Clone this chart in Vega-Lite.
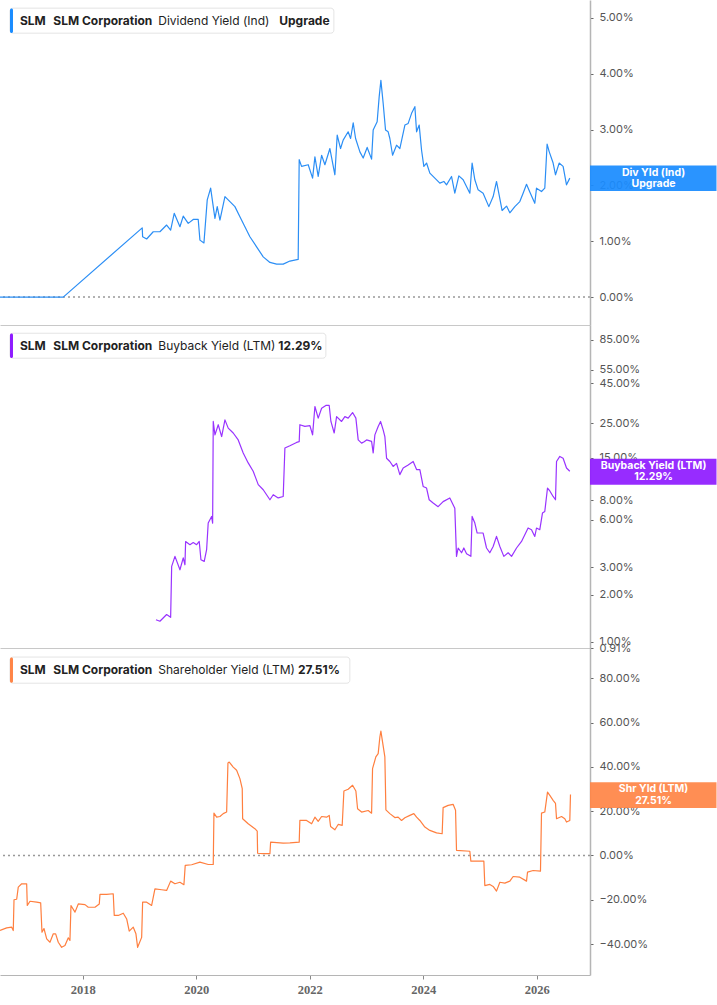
{
  "$schema": "https://vega.github.io/schema/vega-lite/v6.json",
  "padding": 0,
  "background": "white",
  "bounds": "flush",
  "spacing": 0,
  "config": {"font": "Inter", "view": {"stroke": null}},
  "datasets": {
    "div": [
      {"t":2016.54,"v":0},{"t":2017.655,"v":0},{"t":2019.047,"v":1.24},{"t":2019.054,"v":1.08},{"t":2019.125,"v":1.04},{"t":2019.241,"v":1.17},{"t":2019.359,"v":1.17},{"t":2019.477,"v":1.29},{"t":2019.548,"v":1.20},{"t":2019.611,"v":1.50},{"t":2019.712,"v":1.26},{"t":2019.770,"v":1.45},{"t":2019.858,"v":1.32},{"t":2019.946,"v":1.39},{"t":2020.034,"v":1.39},{"t":2020.064,"v":1.02},{"t":2020.135,"v":0.97},{"t":2020.193,"v":1.74},{"t":2020.253,"v":1.95},{"t":2020.299,"v":1.62},{"t":2020.329,"v":1.41},{"t":2020.369,"v":1.62},{"t":2020.417,"v":1.38},{"t":2020.505,"v":1.80},{"t":2020.593,"v":1.71},{"t":2020.681,"v":1.62},{"t":2020.769,"v":1.44},{"t":2020.857,"v":1.26},{"t":2020.945,"v":1.08},{"t":2021.063,"v":0.90},{"t":2021.180,"v":0.72},{"t":2021.298,"v":0.62},{"t":2021.416,"v":0.59},{"t":2021.532,"v":0.59},{"t":2021.650,"v":0.645},{"t":2021.796,"v":0.675},{"t":2021.814,"v":2.46},{"t":2021.856,"v":2.34},{"t":2021.973,"v":2.37},{"t":2022.050,"v":2.13},{"t":2022.091,"v":2.51},{"t":2022.149,"v":2.16},{"t":2022.209,"v":2.54},{"t":2022.267,"v":2.37},{"t":2022.355,"v":2.66},{"t":2022.443,"v":2.19},{"t":2022.484,"v":2.90},{"t":2022.543,"v":2.66},{"t":2022.589,"v":2.81},{"t":2022.677,"v":2.96},{"t":2022.720,"v":2.84},{"t":2022.766,"v":3.12},{"t":2022.808,"v":2.84},{"t":2022.884,"v":2.60},{"t":2022.942,"v":2.49},{"t":2023.012,"v":2.68},{"t":2023.090,"v":2.47},{"t":2023.118,"v":2.99},{"t":2023.188,"v":3.14},{"t":2023.224,"v":3.59},{"t":2023.254,"v":3.88},{"t":2023.294,"v":3.47},{"t":2023.336,"v":2.99},{"t":2023.382,"v":2.96},{"t":2023.412,"v":2.84},{"t":2023.460,"v":2.54},{"t":2023.530,"v":2.72},{"t":2023.588,"v":2.66},{"t":2023.677,"v":3.08},{"t":2023.735,"v":3.11},{"t":2023.795,"v":3.29},{"t":2023.853,"v":3.41},{"t":2023.883,"v":2.96},{"t":2023.929,"v":3.08},{"t":2023.971,"v":2.63},{"t":2024.011,"v":2.34},{"t":2024.059,"v":2.40},{"t":2024.117,"v":2.22},{"t":2024.205,"v":2.13},{"t":2024.293,"v":2.04},{"t":2024.364,"v":2.07},{"t":2024.411,"v":2.01},{"t":2024.499,"v":2.16},{"t":2024.557,"v":1.86},{"t":2024.628,"v":2.17},{"t":2024.704,"v":2.10},{"t":2024.822,"v":1.86},{"t":2024.862,"v":2.40},{"t":2024.910,"v":2.10},{"t":2024.968,"v":1.92},{"t":2025.056,"v":1.86},{"t":2025.157,"v":1.62},{"t":2025.233,"v":1.80},{"t":2025.292,"v":2.07},{"t":2025.338,"v":1.83},{"t":2025.391,"v":1.55},{"t":2025.469,"v":1.63},{"t":2025.527,"v":1.51},{"t":2025.615,"v":1.62},{"t":2025.703,"v":1.71},{"t":2025.761,"v":1.86},{"t":2025.821,"v":2.02},{"t":2025.879,"v":1.88},{"t":2025.967,"v":1.68},{"t":2025.997,"v":1.95},{"t":2026.085,"v":1.89},{"t":2026.143,"v":1.95},{"t":2026.184,"v":2.74},{"t":2026.219,"v":2.61},{"t":2026.290,"v":2.40},{"t":2026.332,"v":2.19},{"t":2026.396,"v":2.40},{"t":2026.466,"v":2.34},{"t":2026.526,"v":2.01},{"t":2026.584,"v":2.13}
    ],
    "bb": [
      {"t":2019.289,"v":1.38},{"t":2019.359,"v":1.35},{"t":2019.477,"v":1.49},{"t":2019.548,"v":1.43},{"t":2019.566,"v":3.03},{"t":2019.624,"v":3.51},{"t":2019.712,"v":2.88},{"t":2019.770,"v":3.43},{"t":2019.800,"v":3.10},{"t":2019.812,"v":4.37},{"t":2019.888,"v":4.17},{"t":2019.946,"v":4.30},{"t":2020.006,"v":4.17},{"t":2020.052,"v":4.37},{"t":2020.082,"v":3.34},{"t":2020.140,"v":3.26},{"t":2020.182,"v":3.87},{"t":2020.210,"v":5.73},{"t":2020.270,"v":6.32},{"t":2020.288,"v":5.73},{"t":2020.299,"v":25.6},{"t":2020.329,"v":21.0},{"t":2020.387,"v":24.4},{"t":2020.447,"v":20.5},{"t":2020.505,"v":26.2},{"t":2020.563,"v":23.2},{"t":2020.651,"v":21.6},{"t":2020.739,"v":19.5},{"t":2020.827,"v":16.1},{"t":2020.915,"v":13.9},{"t":2021.003,"v":12.3},{"t":2021.092,"v":10.1},{"t":2021.180,"v":9.36},{"t":2021.298,"v":8.08},{"t":2021.356,"v":8.7},{"t":2021.444,"v":8.3},{"t":2021.532,"v":8.48},{"t":2021.562,"v":17.3},{"t":2021.650,"v":17.9},{"t":2021.768,"v":18.8},{"t":2021.814,"v":19.0},{"t":2021.826,"v":24.4},{"t":2021.914,"v":23.8},{"t":2022.003,"v":24.1},{"t":2022.050,"v":21.0},{"t":2022.091,"v":31.9},{"t":2022.149,"v":26.9},{"t":2022.209,"v":31.1},{"t":2022.284,"v":32.4},{"t":2022.343,"v":32.4},{"t":2022.373,"v":25.6},{"t":2022.431,"v":21.6},{"t":2022.473,"v":27.5},{"t":2022.561,"v":25.6},{"t":2022.619,"v":27.5},{"t":2022.677,"v":26.9},{"t":2022.755,"v":29.2},{"t":2022.813,"v":26.9},{"t":2022.854,"v":19.5},{"t":2022.914,"v":18.6},{"t":2022.959,"v":19.0},{"t":2023.002,"v":19.5},{"t":2023.090,"v":19.1},{"t":2023.118,"v":16.1},{"t":2023.148,"v":21.0},{"t":2023.206,"v":23.8},{"t":2023.248,"v":25.6},{"t":2023.294,"v":22.6},{"t":2023.324,"v":20.5},{"t":2023.354,"v":14.9},{"t":2023.412,"v":14.2},{"t":2023.470,"v":13.2},{"t":2023.530,"v":13.8},{"t":2023.588,"v":11.7},{"t":2023.647,"v":12.9},{"t":2023.735,"v":13.5},{"t":2023.823,"v":14.2},{"t":2023.883,"v":12.6},{"t":2023.941,"v":12.6},{"t":2023.999,"v":9.83},{"t":2024.059,"v":9.6},{"t":2024.105,"v":8.08},{"t":2024.175,"v":7.7},{"t":2024.263,"v":7.3},{"t":2024.351,"v":7.86},{"t":2024.469,"v":8.3},{"t":2024.557,"v":7.14},{"t":2024.587,"v":3.51},{"t":2024.616,"v":3.97},{"t":2024.676,"v":3.7},{"t":2024.716,"v":3.97},{"t":2024.764,"v":3.65},{"t":2024.840,"v":3.51},{"t":2024.862,"v":6.32},{"t":2024.910,"v":5.73},{"t":2024.951,"v":4.95},{"t":2025.056,"v":4.95},{"t":2025.116,"v":3.97},{"t":2025.174,"v":3.7},{"t":2025.233,"v":4.06},{"t":2025.292,"v":4.71},{"t":2025.351,"v":4.06},{"t":2025.421,"v":3.51},{"t":2025.497,"v":3.7},{"t":2025.557,"v":3.51},{"t":2025.645,"v":3.97},{"t":2025.733,"v":4.37},{"t":2025.849,"v":5.33},{"t":2025.909,"v":5.2},{"t":2025.967,"v":4.71},{"t":2025.997,"v":5.33},{"t":2026.055,"v":5.2},{"t":2026.102,"v":6.64},{"t":2026.143,"v":6.8},{"t":2026.191,"v":9.6},{"t":2026.232,"v":9.2},{"t":2026.290,"v":8.48},{"t":2026.332,"v":8.08},{"t":2026.350,"v":14.2},{"t":2026.408,"v":15.3},{"t":2026.466,"v":14.9},{"t":2026.526,"v":12.9},{"t":2026.584,"v":12.29}
    ],
    "shr": [
      {"t":2016.540,"v":-33.9},{"t":2016.658,"v":-32.7},{"t":2016.746,"v":-32.4},{"t":2016.774,"v":-33.9},{"t":2016.787,"v":-20.0},{"t":2016.834,"v":-19.8},{"t":2016.862,"v":-14.3},{"t":2016.922,"v":-12.8},{"t":2017.010,"v":-12.8},{"t":2017.021,"v":-22.6},{"t":2017.069,"v":-20.7},{"t":2017.187,"v":-21.1},{"t":2017.257,"v":-21.4},{"t":2017.280,"v":-34.7},{"t":2017.315,"v":-33.0},{"t":2017.363,"v":-37.7},{"t":2017.421,"v":-39.2},{"t":2017.479,"v":-35.4},{"t":2017.521,"v":-35.4},{"t":2017.567,"v":-39.2},{"t":2017.627,"v":-41.5},{"t":2017.685,"v":-40.7},{"t":2017.744,"v":-37.2},{"t":2017.773,"v":-38.4},{"t":2017.791,"v":-22.6},{"t":2017.862,"v":-25.6},{"t":2017.920,"v":-21.9},{"t":2018.038,"v":-22.2},{"t":2018.096,"v":-23.4},{"t":2018.214,"v":-23.4},{"t":2018.290,"v":-21.9},{"t":2018.302,"v":-17.6},{"t":2018.420,"v":-17.6},{"t":2018.536,"v":-17.3},{"t":2018.554,"v":-27.1},{"t":2018.625,"v":-27.1},{"t":2018.713,"v":-26.1},{"t":2018.773,"v":-28.7},{"t":2018.818,"v":-34.2},{"t":2018.889,"v":-32.4},{"t":2018.936,"v":-35.4},{"t":2018.966,"v":-41.5},{"t":2019.037,"v":-37.0},{"t":2019.054,"v":-21.1},{"t":2019.125,"v":-21.1},{"t":2019.213,"v":-22.6},{"t":2019.271,"v":-15.1},{"t":2019.389,"v":-15.5},{"t":2019.477,"v":-15.8},{"t":2019.548,"v":-11.6},{"t":2019.624,"v":-12.8},{"t":2019.712,"v":-12.1},{"t":2019.782,"v":-13.2},{"t":2019.805,"v":-4.5},{"t":2019.918,"v":-4.2},{"t":2020.064,"v":-3.0},{"t":2020.210,"v":-4.1},{"t":2020.299,"v":-4.1},{"t":2020.311,"v":19.1},{"t":2020.359,"v":17.3},{"t":2020.417,"v":17.6},{"t":2020.475,"v":18.9},{"t":2020.535,"v":19.6},{"t":2020.558,"v":41.8},{"t":2020.581,"v":42.2},{"t":2020.651,"v":39.9},{"t":2020.711,"v":38.5},{"t":2020.769,"v":34.7},{"t":2020.810,"v":30.2},{"t":2020.817,"v":16.6},{"t":2020.915,"v":14.3},{"t":2021.033,"v":12.1},{"t":2021.074,"v":11.0},{"t":2021.081,"v":1.0},{"t":2021.180,"v":0.8},{"t":2021.298,"v":0.8},{"t":2021.310,"v":6.0},{"t":2021.532,"v":5.6},{"t":2021.650,"v":5.7},{"t":2021.814,"v":6.0},{"t":2021.826,"v":15.8},{"t":2021.944,"v":15.8},{"t":2022.033,"v":14.3},{"t":2022.091,"v":17.3},{"t":2022.149,"v":15.4},{"t":2022.209,"v":17.6},{"t":2022.297,"v":17.3},{"t":2022.343,"v":18.1},{"t":2022.367,"v":13.1},{"t":2022.443,"v":11.6},{"t":2022.501,"v":14.0},{"t":2022.572,"v":13.6},{"t":2022.602,"v":29.1},{"t":2022.677,"v":29.9},{"t":2022.755,"v":31.7},{"t":2022.813,"v":29.1},{"t":2022.843,"v":21.1},{"t":2022.914,"v":19.6},{"t":2023.030,"v":20.3},{"t":2023.090,"v":19.1},{"t":2023.107,"v":39.2},{"t":2023.165,"v":44.5},{"t":2023.206,"v":46.0},{"t":2023.236,"v":53.5},{"t":2023.254,"v":56.2},{"t":2023.283,"v":51.3},{"t":2023.324,"v":44.5},{"t":2023.342,"v":20.6},{"t":2023.412,"v":18.9},{"t":2023.500,"v":17.1},{"t":2023.558,"v":17.3},{"t":2023.618,"v":15.8},{"t":2023.677,"v":17.0},{"t":2023.765,"v":18.1},{"t":2023.835,"v":18.9},{"t":2023.883,"v":17.3},{"t":2023.941,"v":15.8},{"t":2024.029,"v":12.8},{"t":2024.117,"v":11.3},{"t":2024.235,"v":10.2},{"t":2024.334,"v":9.8},{"t":2024.351,"v":21.6},{"t":2024.440,"v":22.6},{"t":2024.527,"v":23.1},{"t":2024.570,"v":20.4},{"t":2024.587,"v":2.3},{"t":2024.822,"v":1.9},{"t":2024.840,"v":-2.6},{"t":2025.069,"v":-2.6},{"t":2025.086,"v":-13.6},{"t":2025.174,"v":-13.1},{"t":2025.233,"v":-14.0},{"t":2025.292,"v":-16.1},{"t":2025.351,"v":-12.1},{"t":2025.439,"v":-12.5},{"t":2025.527,"v":-11.6},{"t":2025.585,"v":-9.5},{"t":2025.703,"v":-9.8},{"t":2025.821,"v":-11.6},{"t":2025.839,"v":-7.5},{"t":2025.937,"v":-6.8},{"t":2026.067,"v":-7.1},{"t":2026.085,"v":19.1},{"t":2026.143,"v":19.6},{"t":2026.191,"v":28.6},{"t":2026.232,"v":27.1},{"t":2026.290,"v":24.9},{"t":2026.332,"v":23.5},{"t":2026.350,"v":16.6},{"t":2026.438,"v":17.6},{"t":2026.496,"v":16.6},{"t":2026.526,"v":15.1},{"t":2026.584,"v":15.8},{"t":2026.596,"v":27.51}
    ]
  },
  "vconcat": [
    {
      "width": 590, "height": 325,
      "layer": [
        {"data": {"values": [{}]}, "mark": {"type": "rule", "color": "#999", "strokeDash": [2, 3], "strokeWidth": 1.5, "clip": true},
         "encoding": {"y": {"datum": 0}}},
        {"data": {"name": "div"},
         "mark": {"type": "line", "color": "#2b8ef5", "strokeWidth": 1.2, "strokeJoin": "round", "clip": true},
         "encoding": {
           "x": {"field": "t", "type": "quantitative", "scale": {"domain": [2016.54, 2026.94], "nice": false, "zero": false},
                 "axis": {"orient": "bottom", "labels": false, "ticks": false, "grid": false, "title": null, "domainColor": "#c8c8c8", "domainWidth": 1}},
           "y": {"field": "v", "type": "quantitative", "scale": {"domain": [-0.5, 5.32], "nice": false, "zero": false},
                 "axis": {"orient": "right", "values": [0, 1, 2, 3, 4, 5], "labelExpr": "format(datum.value, '.2f') + '%'", "grid": false, "title": null,
                          "domainColor": "#b5b5b5", "domainWidth": 1.5, "tickColor": "#666", "tickSize": 3, "labelColor": "#555", "labelFontSize": 11, "labelPadding": 6}}
         }},
        {"data": {"values": [{}]}, "mark": {"type": "rect", "fill": "white", "stroke": "#e4e4e4", "strokeWidth": 1, "cornerRadius": 3},
         "encoding": {"x": {"datum": 2016.716}, "x2": {"datum": 2022.425}, "y": {"datum": 5.174}, "y2": {"datum": 4.726}}},
        {"data": {"values": [{}]}, "mark": {"type": "rect", "fill": "#1a8cff", "cornerRadius": 2},
         "encoding": {"x": {"datum": 2016.716}, "x2": {"datum": 2016.769}, "y": {"datum": 5.17}, "y2": {"datum": 4.73}}},
        {"data": {"values": [{"label": "SLM"}]}, "mark": {"type": "text", "align": "left", "baseline": "middle", "fontWeight": "bold", "fontSize": 12, "color": "#222"},
         "encoding": {"x": {"datum": 2016.892}, "y": {"datum": 4.952}, "text": {"field": "label"}}},
        {"data": {"values": [{"label": "SLM Corporation"}]}, "mark": {"type": "text", "align": "left", "baseline": "middle", "fontWeight": "bold", "fontSize": 12, "color": "#222"},
         "encoding": {"x": {"datum": 2017.479}, "y": {"datum": 4.952}, "text": {"field": "label"}}},
        {"data": {"values": [{"label": "Dividend Yield (Ind)"}]}, "mark": {"type": "text", "align": "left", "baseline": "middle", "fontWeight": "normal", "fontSize": 12, "color": "#222"},
         "encoding": {"x": {"datum": 2019.33}, "y": {"datum": 4.952}, "text": {"field": "label"}}},
        {"data": {"values": [{"label": "Upgrade"}]}, "mark": {"type": "text", "align": "left", "baseline": "middle", "fontWeight": "bold", "fontSize": 12, "color": "#222"},
         "encoding": {"x": {"datum": 2021.462}, "y": {"datum": 4.952}, "text": {"field": "label"}}},
        {"data": {"values": [{}]}, "mark": {"type": "rect", "fill": "#1a8cff", "opacity": 0.93},
         "encoding": {"x": {"datum": 2026.94}, "x2": {"datum": 2029.17}, "y": {"datum": 2.355}, "y2": {"datum": 1.90}}},
        {"data": {"values": [{"label": "Div Yld (Ind)"}]}, "mark": {"type": "text", "align": "center", "baseline": "middle", "fontWeight": "bold", "fontSize": 10.5, "color": "white"},
         "encoding": {"x": {"datum": 2028.06}, "y": {"datum": 2.217}, "text": {"field": "label"}}},
        {"data": {"values": [{"label": "Upgrade"}]}, "mark": {"type": "text", "align": "center", "baseline": "middle", "fontWeight": "bold", "fontSize": 10.5, "color": "white"},
         "encoding": {"x": {"datum": 2028.06}, "y": {"datum": 2.02}, "text": {"field": "label"}}}
      ]
    },
    {
      "width": 590, "height": 323,
      "layer": [
        {"data": {"name": "bb"},
         "mark": {"type": "line", "color": "#9933ff", "strokeWidth": 1.2, "strokeJoin": "round", "clip": true},
         "encoding": {
           "x": {"field": "t", "type": "quantitative", "scale": {"domain": [2016.54, 2026.94], "nice": false, "zero": false},
                 "axis": {"orient": "bottom", "labels": false, "ticks": false, "grid": false, "title": null, "domainColor": "#c8c8c8", "domainWidth": 1}},
           "y": {"field": "v", "type": "quantitative", "scale": {"type": "log", "domain": [0.91, 106], "nice": false},
                 "axis": {"orient": "right", "values": [0.91, 1, 2, 3, 6, 8, 15, 25, 45, 55, 85], "labelExpr": "format(datum.value, '.2f') + '%'", "labelOverlap": false, "grid": false, "title": null,
                          "domainColor": "#b5b5b5", "domainWidth": 1.5, "tickColor": "#666", "tickSize": 3, "labelColor": "#555", "labelFontSize": 11, "labelPadding": 6}}
         }},
        {"data": {"values": [{}]}, "mark": {"type": "rect", "fill": "white", "stroke": "#e4e4e4", "strokeWidth": 1, "cornerRadius": 3},
         "encoding": {"x": {"datum": 2016.716}, "x2": {"datum": 2022.284}, "y": {"datum": 93.9}, "y2": {"datum": 65.0}}},
        {"data": {"values": [{}]}, "mark": {"type": "rect", "fill": "#8f1cff", "cornerRadius": 2},
         "encoding": {"x": {"datum": 2016.716}, "x2": {"datum": 2016.769}, "y": {"datum": 93.5}, "y2": {"datum": 65.3}}},
        {"data": {"values": [{"label": "SLM"}]}, "mark": {"type": "text", "align": "left", "baseline": "middle", "fontWeight": "bold", "fontSize": 12, "color": "#222"},
         "encoding": {"x": {"datum": 2016.892}, "y": {"datum": 78.2}, "text": {"field": "label"}}},
        {"data": {"values": [{"label": "SLM Corporation"}]}, "mark": {"type": "text", "align": "left", "baseline": "middle", "fontWeight": "bold", "fontSize": 12, "color": "#222"},
         "encoding": {"x": {"datum": 2017.479}, "y": {"datum": 78.2}, "text": {"field": "label"}}},
        {"data": {"values": [{"label": "Buyback Yield (LTM)"}]}, "mark": {"type": "text", "align": "left", "baseline": "middle", "fontWeight": "normal", "fontSize": 12, "color": "#222"},
         "encoding": {"x": {"datum": 2019.33}, "y": {"datum": 78.2}, "text": {"field": "label"}}},
        {"data": {"values": [{"label": "12.29%"}]}, "mark": {"type": "text", "align": "left", "baseline": "middle", "fontWeight": "bold", "fontSize": 12, "color": "#222"},
         "encoding": {"x": {"datum": 2021.444}, "y": {"datum": 78.2}, "text": {"field": "label"}}},
        {"data": {"values": [{}]}, "mark": {"type": "rect", "fill": "#8f1cff", "opacity": 0.93},
         "encoding": {"x": {"datum": 2026.94}, "x2": {"datum": 2029.17}, "y": {"datum": 14.77}, "y2": {"datum": 10.07}}},
        {"data": {"values": [{"label": "Buyback Yield (LTM)"}]}, "mark": {"type": "text", "align": "center", "baseline": "middle", "fontWeight": "bold", "fontSize": 10.5, "color": "white"},
         "encoding": {"x": {"datum": 2028.06}, "y": {"datum": 13.19}, "text": {"field": "label"}}},
        {"data": {"values": [{"label": "12.29%"}]}, "mark": {"type": "text", "align": "center", "baseline": "middle", "fontWeight": "bold", "fontSize": 10.5, "color": "white"},
         "encoding": {"x": {"datum": 2028.06}, "y": {"datum": 11.22}, "text": {"field": "label"}}}
      ]
    },
    {
      "width": 590, "height": 327,
      "layer": [
        {"data": {"values": [{}]}, "mark": {"type": "rule", "color": "#999", "strokeDash": [2, 3], "strokeWidth": 1.5, "clip": true},
         "encoding": {"y": {"datum": 0}}},
        {"data": {"name": "shr"},
         "mark": {"type": "line", "color": "#ff7f3f", "strokeWidth": 1.2, "strokeJoin": "round", "clip": true},
         "encoding": {
           "x": {"field": "t", "type": "quantitative", "scale": {"domain": [2016.54, 2026.94], "nice": false, "zero": false},
                 "axis": {"orient": "bottom", "values": [2018, 2020, 2022, 2024, 2026], "format": "d", "grid": false, "title": null,
                          "labelFont": "Liberation Sans Narrow", "labelFontWeight": "bold", "labelColor": "#666", "labelFontSize": 12.5, "labelPadding": 4, "tickSize": 4, "tickColor": "#888",
                          "domainColor": "#b5b5b5", "domainWidth": 1}},
           "y": {"field": "v", "type": "quantitative", "scale": {"domain": [-54, 93.7], "nice": false, "zero": false},
                 "axis": {"orient": "right", "values": [-40, -20, 0, 20, 40, 60, 80], "labelExpr": "format(datum.value, '.2f') + '%'", "grid": false, "title": null,
                          "domainColor": "#b5b5b5", "domainWidth": 1.5, "tickColor": "#666", "tickSize": 3, "labelColor": "#555", "labelFontSize": 11, "labelPadding": 6}}
         }},
        {"data": {"values": [{}]}, "mark": {"type": "rect", "fill": "white", "stroke": "#e4e4e4", "strokeWidth": 1, "cornerRadius": 3},
         "encoding": {"x": {"datum": 2016.716}, "x2": {"datum": 2022.707}, "y": {"datum": 89.6}, "y2": {"datum": 77.8}}},
        {"data": {"values": [{}]}, "mark": {"type": "rect", "fill": "#ff8547", "cornerRadius": 2},
         "encoding": {"x": {"datum": 2016.716}, "x2": {"datum": 2016.769}, "y": {"datum": 89.4}, "y2": {"datum": 78.0}}},
        {"data": {"values": [{"label": "SLM"}]}, "mark": {"type": "text", "align": "left", "baseline": "middle", "fontWeight": "bold", "fontSize": 12, "color": "#222"},
         "encoding": {"x": {"datum": 2016.892}, "y": {"datum": 83.7}, "text": {"field": "label"}}},
        {"data": {"values": [{"label": "SLM Corporation"}]}, "mark": {"type": "text", "align": "left", "baseline": "middle", "fontWeight": "bold", "fontSize": 12, "color": "#222"},
         "encoding": {"x": {"datum": 2017.479}, "y": {"datum": 83.7}, "text": {"field": "label"}}},
        {"data": {"values": [{"label": "Shareholder Yield (LTM)"}]}, "mark": {"type": "text", "align": "left", "baseline": "middle", "fontWeight": "normal", "fontSize": 12, "color": "#222"},
         "encoding": {"x": {"datum": 2019.33}, "y": {"datum": 83.7}, "text": {"field": "label"}}},
        {"data": {"values": [{"label": "27.51%"}]}, "mark": {"type": "text", "align": "left", "baseline": "middle", "fontWeight": "bold", "fontSize": 12, "color": "#222"},
         "encoding": {"x": {"datum": 2021.791}, "y": {"datum": 83.7}, "text": {"field": "label"}}},
        {"data": {"values": [{}]}, "mark": {"type": "rect", "fill": "#ff8547", "opacity": 0.93},
         "encoding": {"x": {"datum": 2026.94}, "x2": {"datum": 2029.17}, "y": {"datum": 33.1}, "y2": {"datum": 21.4}}},
        {"data": {"values": [{"label": "Shr Yld (LTM)"}]}, "mark": {"type": "text", "align": "center", "baseline": "middle", "fontWeight": "bold", "fontSize": 10.5, "color": "white"},
         "encoding": {"x": {"datum": 2028.06}, "y": {"datum": 29.8}, "text": {"field": "label"}}},
        {"data": {"values": [{"label": "27.51%"}]}, "mark": {"type": "text", "align": "center", "baseline": "middle", "fontWeight": "bold", "fontSize": 10.5, "color": "white"},
         "encoding": {"x": {"datum": 2028.06}, "y": {"datum": 24.8}, "text": {"field": "label"}}}
      ]
    }
  ]
}
